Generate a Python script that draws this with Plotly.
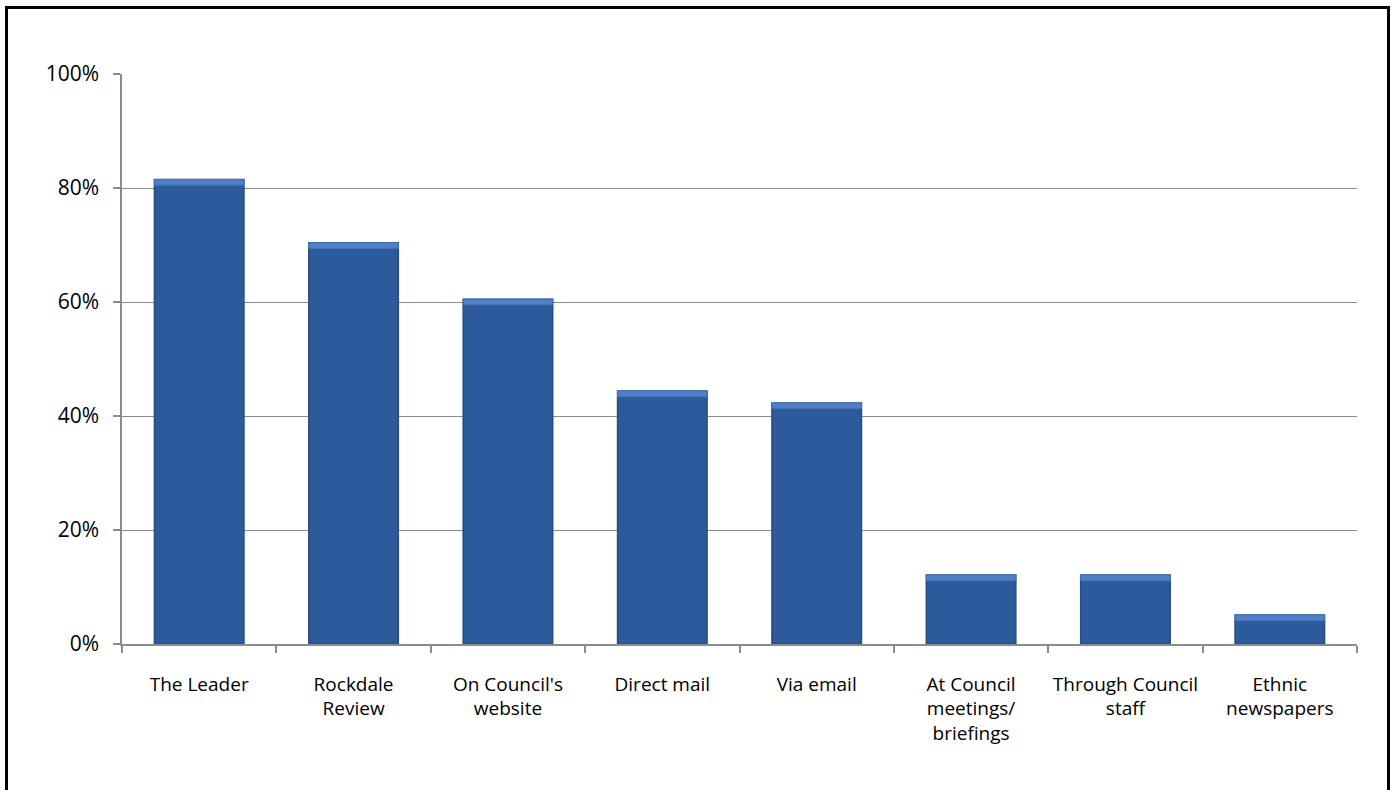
import plotly.graph_objects as go

categories = ["The Leader", "Rockdale<br>Review", "On Council's<br>website", "Direct mail",
              "Via email", "At Council<br>meetings/<br>briefings", "Through Council<br>staff",
              "Ethnic<br>newspapers"]
values = [81.5, 70.4, 60.5, 44.4, 42.3, 12.1, 12.1, 5.1]
y_ticks = [0, 20, 40, 60, 80, 100]
y_labels = ["0%", "20%", "40%", "60%", "80%", "100%"]

W, H = 1395, 790
L, R, T, B = 122, 38, 74, 146
pw, ph = W - L - R, H - T - B

fig = go.Figure()
fig.add_trace(go.Bar(
    x=categories, y=values, width=0.58,
    marker=dict(color="#2D5A9B", line=dict(color="#264d86", width=1.5)),
    hoverinfo="x+y",
))
# top bevel highlight derived from data
bevel = 1.0
fig.add_trace(go.Bar(
    x=categories, y=[bevel] * len(values), base=[v - bevel for v in values], width=0.58,
    marker=dict(color="#4F80C6", line=dict(color="#4373b8", width=1)),
    hoverinfo="skip",
))

font_family = "'Open Sans', Lato, sans-serif"
fig.update_layout(
    width=W, height=H,
    margin=dict(l=L, r=R, t=T, b=B, pad=0, autoexpand=False),
    paper_bgcolor="white", plot_bgcolor="white",
    barmode="overlay", showlegend=False,
    font=dict(family=font_family, size=19, color="black"),
    xaxis=dict(
        showgrid=False, showline=True, linecolor="#8c8c8c", linewidth=1.5,
        ticks="outside", tickson="boundaries", ticklen=7, tickcolor="#8c8c8c", tickwidth=1.5,
        tickfont=dict(size=19, color="black"), ticklabelstandoff=22,
        tickangle=0, automargin=False,
    ),
    yaxis=dict(
        range=[0, 100], tickvals=y_ticks, ticktext=y_labels,
        showgrid=True, gridcolor="#8c8c8c", gridwidth=1.2,
        showline=True, linecolor="#8c8c8c", linewidth=1.5,
        ticks="outside", ticklen=7, tickcolor="#8c8c8c", tickwidth=1.5,
        tickfont=dict(size=21, color="black"), ticklabelstandoff=10,
        zeroline=False, automargin=False,
    ),
    shapes=[dict(
        type="rect", xref="paper", yref="paper",
        x0=(6.5 - L) / pw, x1=(1388.5 - L) / pw,
        y0=-(B + 20) / ph, y1=1 + (T - 7.5) / ph,
        line=dict(color="black", width=3), fillcolor="rgba(0,0,0,0)", layer="above",
    )],
)

fig.write_html(
    "out.html",
    config={"displayModeBar": False},
    post_script="document.body.style.margin='0';document.body.style.overflow='hidden';",
)
